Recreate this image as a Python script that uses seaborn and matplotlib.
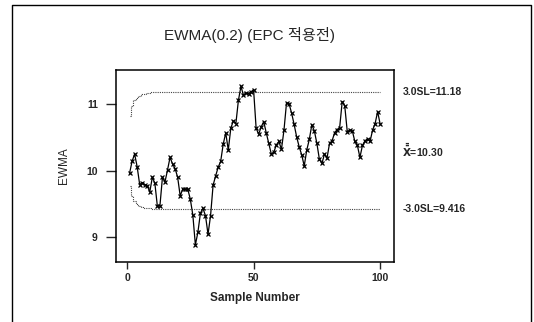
import numpy as np
import pandas as pd
import seaborn as sns
import matplotlib.pyplot as plt
from matplotlib.lines import Line2D

# EWMA values, samples 1..100
ewma = [9.96, 10.14, 10.25, 10.06, 9.79, 9.82, 9.79, 9.77, 9.68, 9.90,
        9.81, 9.46, 9.47, 9.90, 9.83, 10.01, 10.20, 10.10, 10.03, 9.90,
        9.62, 9.72, 9.72, 9.72, 9.57, 9.33, 8.88, 9.07, 9.36, 9.43,
        9.32, 9.04, 9.32, 9.78, 9.92, 10.05, 10.14, 10.40, 10.57, 10.31,
        10.64, 10.75, 10.71, 11.06, 11.27, 11.14, 11.17, 11.16, 11.19, 11.22,
        10.64, 10.55, 10.66, 10.74, 10.57, 10.41, 10.25, 10.28, 10.39, 10.44,
        10.32, 10.61, 11.02, 11.01, 10.87, 10.70, 10.51, 10.36, 10.24, 10.07,
        10.31, 10.47, 10.69, 10.60, 10.41, 10.17, 10.11, 10.25, 10.19, 10.41,
        10.45, 10.57, 10.62, 10.65, 11.04, 10.98, 10.59, 10.61, 10.60, 10.44,
        10.38, 10.20, 10.38, 10.45, 10.48, 10.44, 10.61, 10.71, 10.89, 10.70]
samples = list(range(1, len(ewma) + 1))

center = 10.30
ucl_value = 11.18
lcl_value = 9.416
# limits widen over the first samples, then stay flat
ucl_start = [10.83, 10.98, 11.06, 11.10, 11.13, 11.15, 11.16, 11.17, 11.17]
lcl_start = [9.77, 9.62, 9.54, 9.50, 9.47, 9.45, 9.44, 9.43, 9.43]
ucl = ucl_start + [ucl_value] * (len(samples) - len(ucl_start))
lcl = lcl_start + [lcl_value] * (len(samples) - len(lcl_start))

df = pd.DataFrame({"sample": samples, "ewma": ewma, "ucl": ucl, "lcl": lcl})

sns.set_style("white")
plt.rcParams["font.family"] = ["Liberation Sans", "Noto Sans CJK KR", "DejaVu Sans"]
plt.rcParams["font.weight"] = "bold"

fig = plt.figure(figsize=(5.34, 3.22), dpi=100)
ax = fig.add_axes([0.217, 0.186, 0.521, 0.597])

# control limits as dotted step lines
ax.step(df["sample"], df["ucl"], where="mid", color="#444444", lw=0.8, ls=(0, (1, 1)))
ax.step(df["sample"], df["lcl"], where="mid", color="#444444", lw=0.8, ls=(0, (1, 1)))

sns.lineplot(data=df, x="sample", y="ewma", ax=ax, color="black", lw=0.9,
             marker="x", markersize=3.5, markeredgewidth=0.9, markeredgecolor="black")

ax.set_xlim(-4.4, 105.5)
ax.set_ylim(8.62, 11.52)
ax.set_xticks([0, 50, 100])
ax.set_yticks([9, 10, 11])
ax.tick_params(axis="both", direction="out", length=5, width=1, labelsize=7.5,
               bottom=True, left=True, pad=3)
ax.tick_params(axis="y", length=7, pad=6)
for s in ax.spines.values():
    s.set_linewidth(1.1)
    s.set_color("black")

ax.set_xlabel("Sample Number", fontsize=8.5, fontweight="bold", labelpad=6)
ax.set_ylabel("EWMA", fontsize=8.5, fontweight="normal", labelpad=12)

# right-side labels
ax.text(1.03, ucl_value, "3.0SL=11.18", transform=ax.get_yaxis_transform(),
        fontsize=7.5, fontweight="bold", va="center", ha="left")
ax.text(1.03, center, r"$\bar{\bar{\mathbf{X}}}$=10.30", transform=ax.get_yaxis_transform(),
        fontsize=7.5, fontweight="bold", va="center", ha="left")
ax.text(1.03, lcl_value, "-3.0SL=9.416", transform=ax.get_yaxis_transform(),
        fontsize=7.5, fontweight="bold", va="center", ha="left")

fig.text(250 / 534, 1 - 35 / 322, "EWMA(0.2) (EPC 적용전)", fontsize=11,
         fontweight="normal", ha="center", va="center")

# outer frame of the scanned figure
fx = [12 / 534, 12 / 534, 531 / 534, 531 / 534]
fy = [0.0, 1 - 5 / 322, 1 - 5 / 322, 0.0]
fig.add_artist(Line2D(fx, fy, color="black", lw=1.0))

fig.savefig("out.png", dpi=100)
